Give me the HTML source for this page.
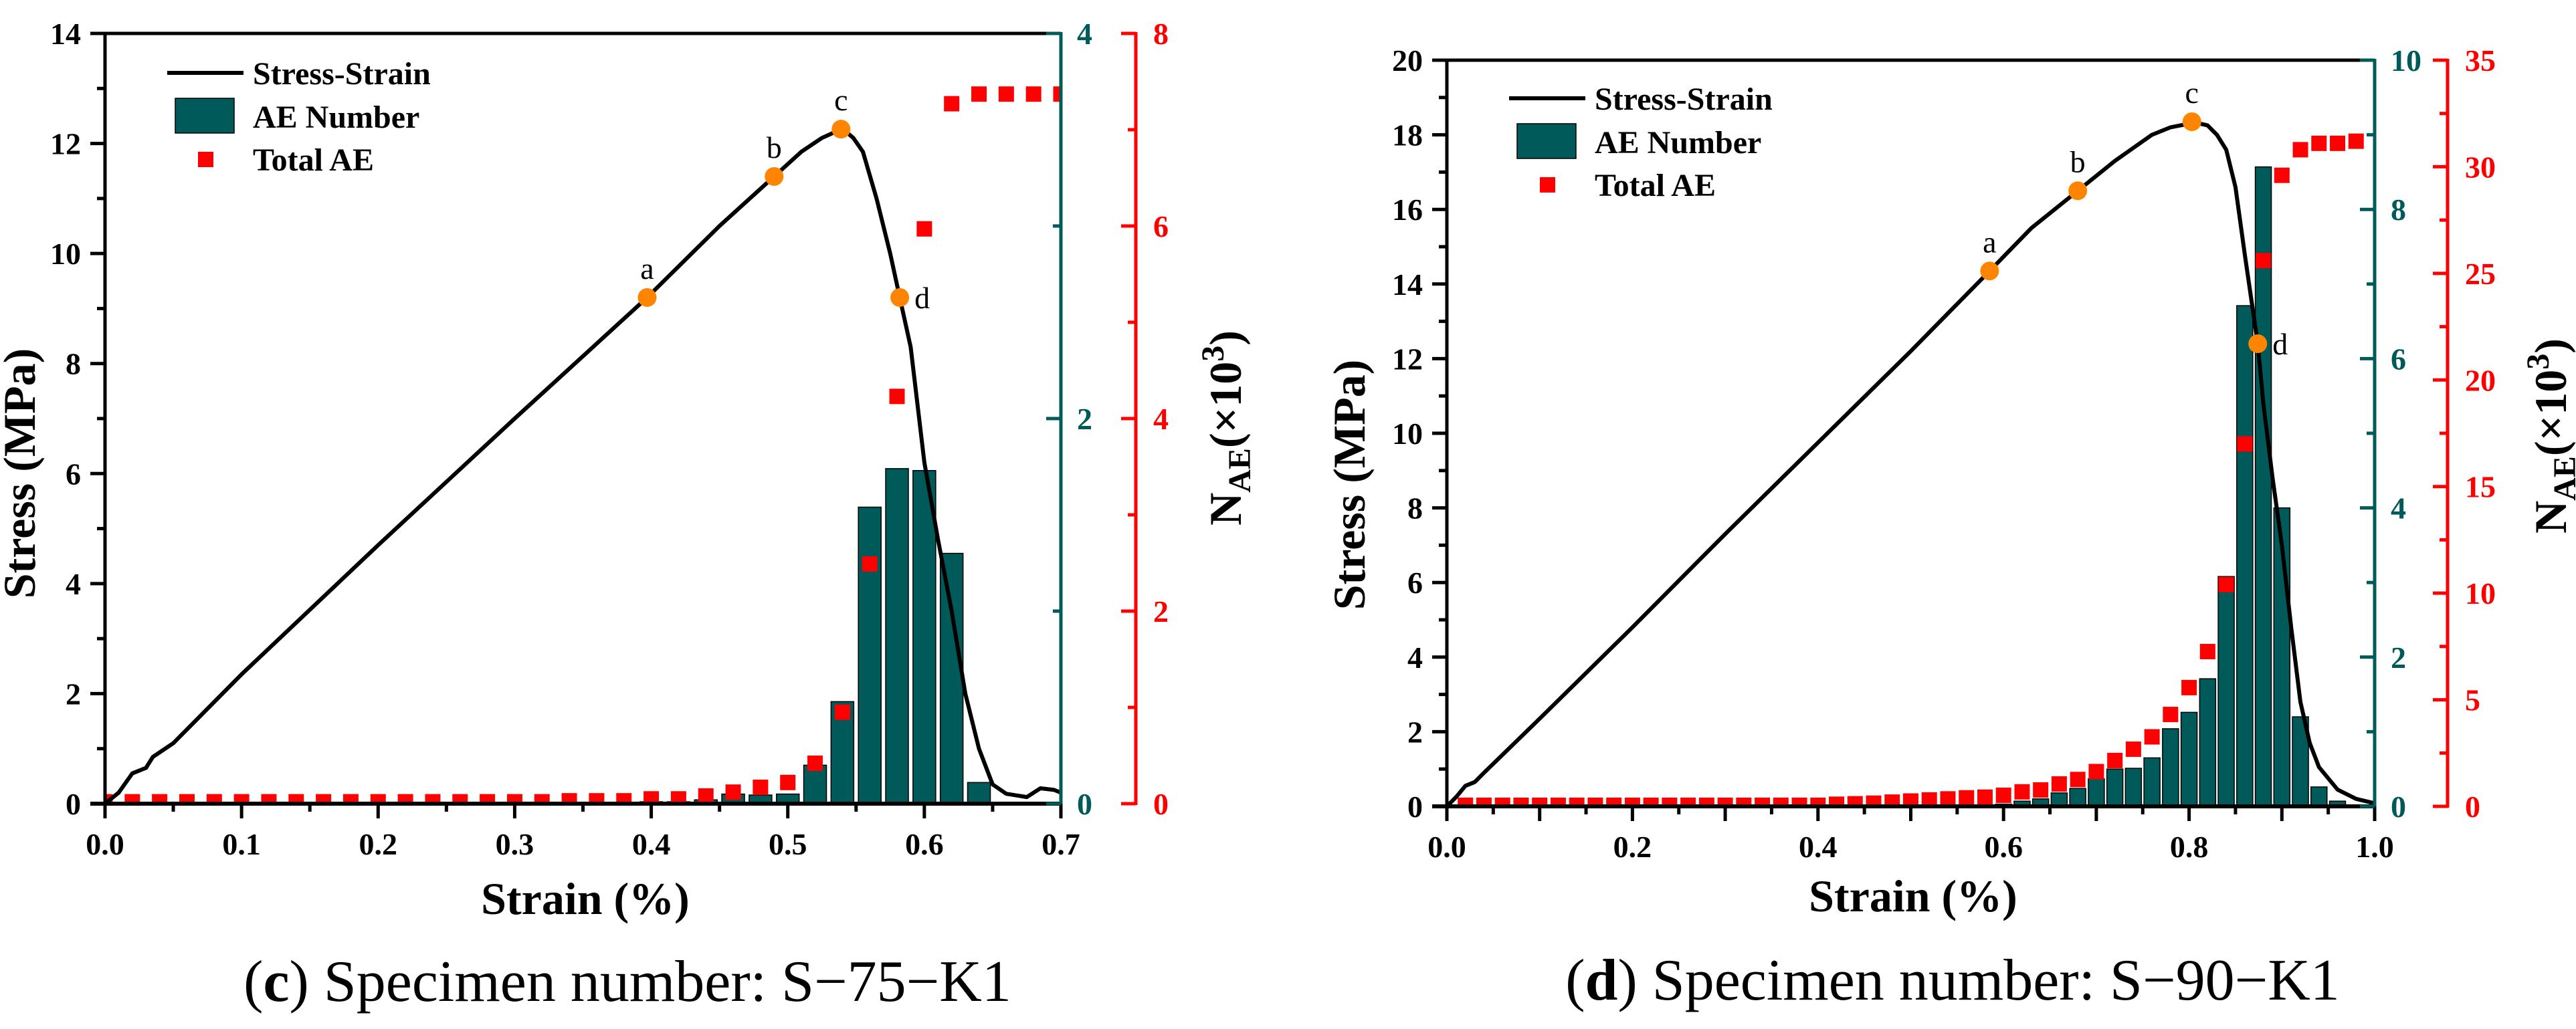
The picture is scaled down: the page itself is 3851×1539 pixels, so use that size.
<!DOCTYPE html>
<html><head><meta charset="utf-8"><style>
html,body{margin:0;padding:0;background:#fff;}
svg{display:block;}
text{font-family:"Liberation Serif",serif;}
</style></head><body>
<svg id="svg" width="3851" height="1539" viewBox="0 0 3851 1539" xmlns="http://www.w3.org/2000/svg">
<defs>
<clipPath id="clipL"><rect x="157" y="50" width="1429" height="1152"/></clipPath>
<clipPath id="clipR"><rect x="2163" y="90" width="1387" height="1116"/></clipPath>
</defs>
<g id="gL"></g>
<g id="gR"></g>
<text x="938" y="1497" font-size="88" text-anchor="middle">(<tspan font-weight="bold">c</tspan>) Specimen number: S−75−K1</text>
<text x="2919" y="1495" font-size="88" text-anchor="middle">(<tspan font-weight="bold">d</tspan>) Specimen number: S−90−K1</text>
</svg>
<script>
// ---- Chart (c) data ----
const cCurveStrain = [0,0.01,0.02,0.03,0.035,0.05,0.1,0.2,0.3,0.397,0.45,0.49,0.51,0.525,0.54,0.548,0.555,0.565,0.575,0.582,0.59,0.60,0.61,0.62,0.63,0.64,0.65,0.66,0.675,0.685,0.695,0.70];
const cCurveStress = [0,0.2,0.55,0.65,0.85,1.1,2.35,4.7,7.0,9.2,10.5,11.4,11.85,12.1,12.27,12.1,11.85,11.0,10.0,9.2,8.3,6.2,4.8,3.5,2.0,1.0,0.35,0.18,0.12,0.28,0.25,0.2];
const cBarStrain = [0.40,0.42,0.44,0.46,0.48,0.50,0.52,0.54,0.56,0.58,0.60,0.62,0.64];
const cBarCount = [0.01,0.01,0.02,0.05,0.045,0.05,0.2,0.53,1.54,1.74,1.73,1.30,0.11];
const cTotalStrain = [0,0.02,0.04,0.06,0.08,0.10,0.12,0.14,0.16,0.18,0.20,0.22,0.24,0.26,0.28,0.30,0.32,0.34,0.36,0.38,0.40,0.42,0.44,0.46,0.48,0.50,0.52,0.54,0.56,0.58,0.60,0.62,0.64,0.66,0.68,0.70];
const cTotalAE = [0.02,0.02,0.02,0.02,0.02,0.02,0.02,0.02,0.02,0.02,0.02,0.02,0.02,0.02,0.02,0.02,0.02,0.03,0.03,0.03,0.05,0.05,0.08,0.12,0.17,0.22,0.42,0.95,2.49,4.23,5.97,7.27,7.37,7.37,7.37,7.37];
const cPointNames = ["a","b","c","d"];
const cPointStrain = [0.397,0.49,0.539,0.582];
const cPointStress = [9.2,11.4,12.26,9.2];
const cXTicks = ["0.0","0.1","0.2","0.3","0.4","0.5","0.6","0.7"];
const cYTicks = ["0","2","4","6","8","10","12","14"];
const cTealTicks = ["0","2","4"];
const cRedTicks = ["0","2","4","6","8"];
// ---- Chart (d) data ----
const dCurveStrain = [0,0.01,0.02,0.03,0.04,0.1,0.2,0.3,0.4,0.5,0.585,0.63,0.68,0.72,0.76,0.78,0.80,0.803,0.82,0.83,0.84,0.85,0.86,0.874,0.88,0.89,0.90,0.91,0.92,0.93,0.94,0.96,0.98,1.0];
const dCurveStress = [0,0.25,0.55,0.65,0.9,2.35,4.8,7.3,9.75,12.2,14.35,15.5,16.5,17.3,18.0,18.2,18.3,18.35,18.25,18.0,17.6,16.6,14.8,12.4,10.8,8.8,7.0,4.8,2.8,1.7,1.05,0.45,0.2,0.08];
const dBarStrain = [0.60,0.62,0.64,0.66,0.68,0.70,0.72,0.74,0.76,0.78,0.80,0.82,0.84,0.86,0.88,0.90,0.92,0.94,0.96];
const dBarCount = [0.03,0.07,0.1,0.18,0.24,0.37,0.5,0.51,0.65,1.04,1.26,1.71,3.08,6.71,8.57,4.0,1.2,0.26,0.07];
const dTotalStrain = [0.02,0.04,0.06,0.08,0.10,0.12,0.14,0.16,0.18,0.20,0.22,0.24,0.26,0.28,0.30,0.32,0.34,0.36,0.38,0.40,0.42,0.44,0.46,0.48,0.50,0.52,0.54,0.56,0.58,0.60,0.62,0.64,0.66,0.68,0.70,0.72,0.74,0.76,0.78,0.80,0.82,0.84,0.86,0.88,0.90,0.92,0.94,0.96,0.98];
const dTotalAE = [0.05,0.05,0.05,0.05,0.05,0.05,0.05,0.05,0.05,0.05,0.05,0.05,0.05,0.05,0.05,0.05,0.05,0.05,0.05,0.05,0.1,0.12,0.15,0.2,0.25,0.3,0.35,0.4,0.43,0.52,0.68,0.77,1.05,1.26,1.63,2.15,2.68,3.26,4.31,5.57,7.26,10.4,17.0,25.6,29.6,30.8,31.1,31.1,31.2];
const dPointNames = ["a","b","c","d"];
const dPointStrain = [0.585,0.68,0.803,0.874];
const dPointStress = [14.35,16.5,18.35,12.4];
const dXTicks = ["0.0","0.2","0.4","0.6","0.8","1.0"];
const dYTicks = ["0","2","4","6","8","10","12","14","16","18","20"];
const dTealTicks = ["0","2","4","6","8","10"];
const dRedTicks = ["0","5","10","15","20","25","30","35"];

const NS="http://www.w3.org/2000/svg";
const TEAL="#005a5a", RED="#ff0000", ORANGE="#ff8400";
function mk(parent,tag,attrs,txt){const e=document.createElementNS(NS,tag);for(const k in attrs)e.setAttribute(k,attrs[k]);if(txt!==undefined)e.textContent=txt;parent.appendChild(e);return e;}

function drawChart(g,cfg){
  const {x0,x1,yT,yB,xMax,yMax,tMax,rMax,redX,clip}=cfg;
  const sx=v=>x0+(x1-x0)*v/xMax;
  const sy=v=>yB-(yB-yT)*v/yMax;
  const st=v=>yB-(yB-yT)*v/tMax;
  const sr=v=>yB-(yB-yT)*v/rMax;
  const plot=mk(g,'g',{'clip-path':'url(#'+clip+')'});
  
  
  cfg.barS.forEach((s,i)=>{
    const r=mk(plot,'rect',{x:sx(s)-cfg.barW/2,y:st(cfg.barV[i]),width:cfg.barW,height:yB-st(cfg.barV[i]),fill:TEAL,stroke:'#000','stroke-width':1.5});
    
    
  });
  cfg.totS.forEach((s,i)=>{
    const r=mk(plot,'rect',{x:sx(s)-11.5,y:sr(cfg.totV[i])-11.5,width:23,height:23,fill:RED});
    
    
  });
  const d=cfg.cS.map((s,i)=>(i?'L':'M')+sx(s).toFixed(1)+','+sy(cfg.cV[i]).toFixed(1)).join(' ');
  const p=mk(plot,'path',{d:d,fill:'none',stroke:'#000','stroke-width':6,'stroke-linejoin':'round'});
  
  
  cfg.pS.forEach((s,i)=>{
    const c=mk(g,'circle',{cx:sx(s),cy:sy(cfg.pV[i]),r:14,fill:ORANGE});
    
    
    const isD=cfg.pN[i]==='d';
    const t=mk(g,'text',{x:isD?sx(s)+22:sx(s),y:isD?sy(cfg.pV[i])+16:sy(cfg.pV[i])-28,'font-size':46,'text-anchor':isD?'start':'middle'},cfg.pN[i]);
    
    
  });
  const frame=mk(g,'path',{d:`M${x0},${yB} L${x0},${yT} L${x1},${yT}`,fill:'none',stroke:'#000','stroke-width':5});
  
  
  const xa=mk(g,'line',{x1:x0-22,y1:yB,x2:x1,y2:yB,stroke:'#000','stroke-width':6});
  
  
  const nMinor=Math.round(xMax/cfg.xMinor);
  for(let k=0;k<=nMinor;k++){const v=k*cfg.xMinor;const major=(k%2===0);
    mk(g,'line',{x1:sx(v),y1:yB,x2:sx(v),y2:yB+(major?22:12),stroke:'#000','stroke-width':5});}
  cfg.xTicks.forEach(lab=>{const v=parseFloat(lab);
    const t=mk(g,'text',{x:sx(v),y:yB+76,'font-size':46,'font-weight':'bold','text-anchor':'middle'},lab);
    
    });
  const ys=parseFloat(cfg.yTicks[1]);
  for(let v=0;v<=yMax+1e-9;v+=ys/2){const major=Math.abs((v/ys)-Math.round(v/ys))<1e-6;
    mk(g,'line',{x1:x0,y1:sy(v),x2:x0-(major?22:12),y2:sy(v),stroke:'#000','stroke-width':5});}
  cfg.yTicks.forEach(lab=>{const v=parseFloat(lab);
    const t=mk(g,'text',{x:x0-36,y:sy(v)+16,'font-size':46,'font-weight':'bold','text-anchor':'end'},lab);
    
    });
  const ta=mk(g,'line',{x1:x1,y1:yT-2,x2:x1,y2:yB,stroke:TEAL,'stroke-width':5});
  
  
  const ts=parseFloat(cfg.tTicks[1]);
  for(let v=0;v<=tMax+1e-9;v+=ts/2){const major=Math.abs((v/ts)-Math.round(v/ts))<1e-6;
    mk(g,'line',{x1:x1,y1:st(v),x2:x1-(major?22:12),y2:st(v),stroke:TEAL,'stroke-width':5});}
  cfg.tTicks.forEach(lab=>{const v=parseFloat(lab);
    const t=mk(g,'text',{x:x1+24,y:st(v)+16,'font-size':46,'font-weight':'bold',fill:TEAL},lab);
    
    });
  const ra=mk(g,'line',{x1:redX,y1:yT-2,x2:redX,y2:yB+2,stroke:RED,'stroke-width':5});
  
  
  const rs=parseFloat(cfg.rTicks[1]);
  for(let v=0;v<=rMax+1e-9;v+=rs/2){const major=Math.abs((v/rs)-Math.round(v/rs))<1e-6;
    mk(g,'line',{x1:redX,y1:sr(v),x2:redX-(major?22:12),y2:sr(v),stroke:RED,'stroke-width':5});}
  cfg.rTicks.forEach(lab=>{const v=parseFloat(lab);
    const t=mk(g,'text',{x:redX+26,y:sr(v)+16,'font-size':46,'font-weight':'bold',fill:RED},lab);
    
    });
  const xt=mk(g,'text',{x:cfg.xTitleX,y:cfg.xTitleY,'font-size':68,'font-weight':'bold','text-anchor':'middle'},'Strain  (%)');
  
  
  const yt=mk(g,'text',{x:0,y:0,'font-size':68,'font-weight':'bold','text-anchor':'middle',transform:`translate(${cfg.yTitleX},${cfg.yTitleY}) rotate(-90)`},'Stress  (MPa)');
  
  
  const nt=mk(g,'text',{x:0,y:0,'font-size':68,'font-weight':'bold','text-anchor':'middle',transform:`translate(${cfg.nTitleX},${cfg.nTitleY}) rotate(-90)`});
  nt.innerHTML='N<tspan font-size="48" dy="14">AE</tspan><tspan dy="-14">(×10</tspan><tspan font-size="48" dy="-26">3</tspan><tspan dy="26">)</tspan>';
  
  
  const lg=mk(g,'g',{});
  
  
  const lx=cfg.legX, ly=cfg.legY;
  mk(lg,'line',{x1:lx,y1:ly,x2:lx+114,y2:ly,stroke:'#000','stroke-width':6});
  mk(lg,'rect',{x:lx+12,y:ly+38,width:88,height:52,fill:TEAL,stroke:'#000','stroke-width':1.5});
  mk(lg,'rect',{x:lx+46,y:ly+118,width:23,height:23,fill:RED});
  const l1=mk(lg,'text',{x:lx+128,y:ly+17,'font-size':48,'font-weight':'bold'},'Stress-Strain');
  
  
  const l2=mk(lg,'text',{x:lx+128,y:ly+82,'font-size':48,'font-weight':'bold'},'AE Number');
  
  
  const l3=mk(lg,'text',{x:lx+128,y:ly+146,'font-size':48,'font-weight':'bold'},'Total AE');
  
  
}

drawChart(document.getElementById('gL'),{x0:157,x1:1586,yT:50,yB:1202,xMax:0.7,yMax:14,tMax:4,rMax:8,redX:1698,clip:'clipL',
  xMinor:0.05,barW:34,barS:cBarStrain,barV:cBarCount,totS:cTotalStrain,totV:cTotalAE,cS:cCurveStrain,cV:cCurveStress,
  pN:cPointNames,pS:cPointStrain,pV:cPointStress,xTicks:cXTicks,yTicks:cYTicks,tTicks:cTealTicks,rTicks:cRedTicks,
  xTitleX:875,xTitleY:1367,yTitleX:52,yTitleY:708,nTitleX:1855,nTitleY:640,legX:250,legY:109});
drawChart(document.getElementById('gR'),{x0:2163,x1:3550,yT:90,yB:1206,xMax:1.0,yMax:20,tMax:10,rMax:35,redX:3659,clip:'clipR',
  xMinor:0.05,barW:24,barS:dBarStrain,barV:dBarCount,totS:dTotalStrain,totV:dTotalAE,cS:dCurveStrain,cV:dCurveStress,
  pN:dPointNames,pS:dPointStrain,pV:dPointStress,xTicks:dXTicks,yTicks:dYTicks,tTicks:dTealTicks,rTicks:dRedTicks,
  xTitleX:2860,xTitleY:1363,yTitleX:2040,yTitleY:725,nTitleX:3836,nTitleY:652,legX:2256,legY:147});
</script>
</body></html>
